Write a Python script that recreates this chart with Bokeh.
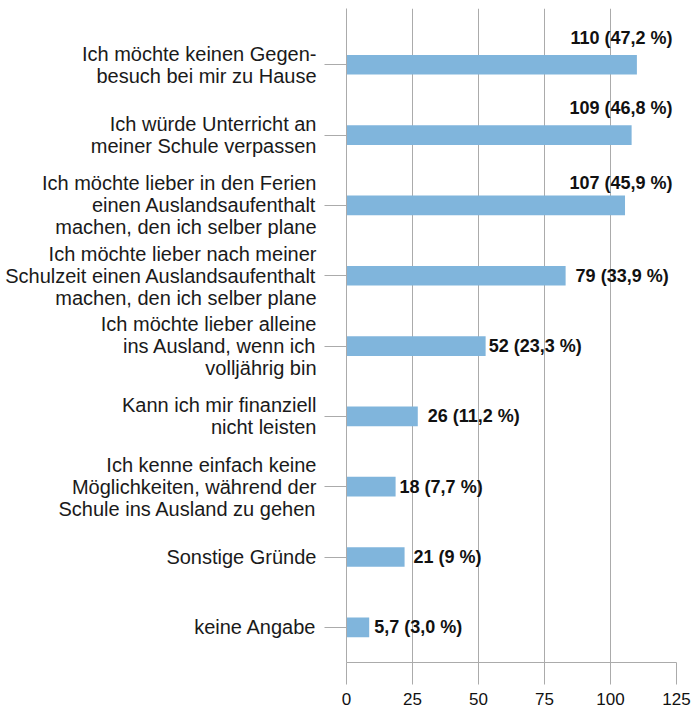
from bokeh.plotting import figure
from bokeh.models import ColumnDataSource, Range1d, FixedTicker, LabelSet
from bokeh.core.properties import value
from bokeh.embed import file_html
from bokeh.resources import INLINE

categories = [
    "Ich möchte keinen Gegen-\nbesuch bei mir zu Hause",
    "Ich würde Unterricht an\nmeiner Schule verpassen",
    "Ich möchte lieber in den Ferien\neinen Auslandsaufenthalt\nmachen, den ich selber plane",
    "Ich möchte lieber nach meiner\nSchulzeit einen Auslandsaufenthalt\nmachen, den ich selber plane",
    "Ich möchte lieber alleine\nins Ausland, wenn ich\nvolljährig bin",
    "Kann ich mir finanziell\nnicht leisten",
    "Ich kenne einfach keine\nMöglichkeiten, während der\nSchule ins Ausland zu gehen",
    "Sonstige Gründe",
    "keine Angabe",
]
# bar lengths as drawn in the picture
bar_values = [110, 108, 105.5, 83, 52.7, 27, 18.6, 22, 8.6]
value_labels = [
    "110 (47,2 %)", "109 (46,8 %)", "107 (45,9 %)", "79 (33,9 %)", "52 (23,3 %)",
    "26 (11,2 %)", "18 (7,7 %)", "21 (9 %)", "5,7 (3,0 %)",
]
x_ticks = [0, 25, 50, 75, 100, 125]

n = len(categories)
ypos = [n - 1 - i for i in range(n)]

BAR = "#80b5dc"
GRID = "#ababab"
FONT = "Liberation Sans"

p = figure(width=692, height=708, output_backend="svg", toolbar_location=None,
           x_range=Range1d(0, 125), y_range=Range1d(-0.5, n - 0.2),
           min_border_left=346, min_border_right=16, min_border_top=8, min_border_bottom=46)
p.outline_line_color = None
p.background_fill_color = "white"
p.border_fill_color = "white"

src = ColumnDataSource(dict(y=ypos, right=bar_values, cat=categories, lab=value_labels))
p.hbar(y="y", left=0, right="right", height=0.28, source=src, fill_color=BAR, line_color=None)

# labels: top three above bar at right edge, rest right of bar
top_idx = [0, 1, 2]
rest_idx = [i for i in range(n) if i not in top_idx]
offsets_rest = [10, 3, 10, 4, 9, 5]

top_src = ColumnDataSource(dict(
    x=[125] * len(top_idx), y=[ypos[i] for i in top_idx],
    t=[value_labels[i] for i in top_idx], yo=[27, 27, 22]))
p.add_layout(LabelSet(x="x", y="y", text="t", source=top_src, x_offset=-4, y_offset="yo",
                      text_align="right", text_baseline="middle", text_font=value(FONT),
                      text_font_style="bold", text_font_size="18px", text_color="#111111"))
rest_src = ColumnDataSource(dict(
    x=[bar_values[i] for i in rest_idx], y=[ypos[i] for i in rest_idx],
    t=[value_labels[i] for i in rest_idx], xo=offsets_rest))
p.add_layout(LabelSet(x="x", y="y", text="t", source=rest_src, x_offset="xo",
                      text_align="left", text_baseline="middle", text_font=value(FONT),
                      text_font_style="bold", text_font_size="18px", text_color="#111111"))

# axes
p.xaxis.ticker = FixedTicker(ticks=x_ticks)
p.xaxis.axis_line_color = GRID
p.xaxis.major_tick_line_color = GRID
p.xaxis.major_tick_in = 0
p.xaxis.major_tick_out = 22
p.xaxis.minor_tick_line_color = None
p.xaxis.major_label_standoff = 8
p.xaxis.major_label_text_font = FONT
p.xaxis.major_label_text_font_size = "17px"
p.xaxis.major_label_text_color = "#111111"

p.yaxis.ticker = FixedTicker(ticks=ypos)
p.yaxis.major_label_overrides = {y: c for y, c in zip(ypos, categories)}
p.yaxis.axis_line_color = GRID
p.yaxis.major_tick_line_color = GRID
p.yaxis.major_tick_in = 0
p.yaxis.major_tick_out = 22
p.yaxis.minor_tick_line_color = None
p.yaxis.major_label_standoff = 8
p.yaxis.major_label_text_font = FONT
p.yaxis.major_label_text_font_size = "20px"
p.yaxis.major_label_text_line_height = 1.0
p.yaxis.major_label_text_color = "#1a1a1a"

p.xgrid.grid_line_color = GRID
p.ygrid.grid_line_color = None

open("out.html", "w").write(file_html(p, INLINE))
